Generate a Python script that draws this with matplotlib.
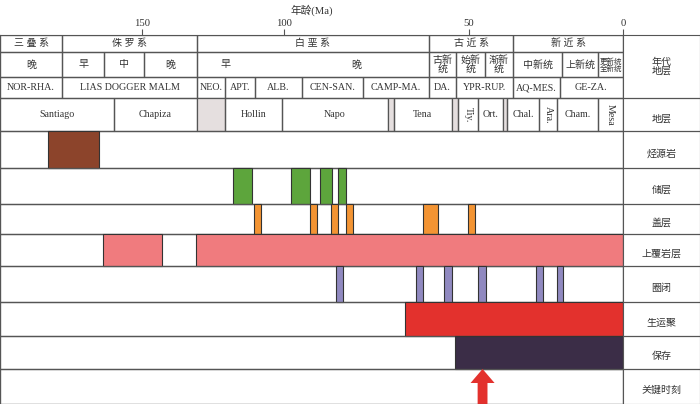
import numpy as np
import matplotlib
matplotlib.use('Agg')
import matplotlib.pyplot as plt
from matplotlib.patches import Rectangle, FancyArrow

plt.rcParams['font.family'] = ['Liberation Serif', 'Noto Sans CJK SC']

# Non-linear time axis used by the chart: age (Ma) -> relative width
knot_ages = [0, 50, 100, 150, 200]
knot_pos = [0, 154, 339, 481.3, 623]

# Chronostratigraphy (age spans in Ma)
systems = [(200, 178.1, '三 叠 系'), (178.1, 130.6, '侏 罗 系'), (130.6, 60.8, '白 垩 系'),
           (60.8, 35.7, '古 近 系'), (35.7, 0, '新 近 系')]
series = [(200, 178.1, '晚'), (178.1, 163.3, '早'), (163.3, 149.2, '中'), (149.2, 130.6, '晚'),
          (130.6, 60.8, None), (60.8, 53.5, '古新\n统'), (53.5, 44.8, '始新\n统'),
          (44.8, 35.7, '渐新\n统'), (35.7, 19.8, '中新统'), (19.8, 8.1, '上新统'),
          (8.1, 0, '更新统\n全新统')]
cret_labels = [(120.7, '早'), (80.5, '晚')]
stages = [(200, 178.1, 'NOR-RHA.'), (178.1, 130.6, 'LIAS DOGGER MALM'), (130.6, 120.7, 'NEO.'),
          (120.7, 110.2, 'APT.'), (110.2, 95.1, 'ALB.'), (95.1, 78.6, 'CEN-SAN.'),
          (78.6, 60.8, 'CAMP-MA.'), (60.8, 53.5, 'DA.'), (53.5, 35.7, 'YPR-RUP.'),
          (35.7, 20.5, 'AQ-MES.'), (20.5, 0, 'GE-ZA.')]
# formations: (old, young, name, rotated, hiatus)
formations = [(200, 159.8, 'Santiago', False, False), (159.8, 130.6, 'Chapiza', False, False),
              (130.6, 120.7, '', False, True), (120.7, 100.7, 'Hollin', False, False),
              (100.7, 71.9, 'Napo', False, False), (71.9, 70.3, '', False, True),
              (70.3, 54.6, 'Tena', False, False), (54.6, 53.0, '', False, True),
              (53.0, 47.1, 'Tiy.', True, False), (47.1, 39.0, 'Ort.', False, False),
              (39.0, 37.7, '', False, True), (37.7, 27.3, 'Chal.', False, False),
              (27.3, 21.4, 'Ara.', True, False), (21.4, 8.1, 'Cham.', False, False),
              (8.1, 0, 'Mesa', True, False)]

# Petroleum system elements
source_rock = [(183.1, 165.1)]
reservoir = [(118.0, 111.2), (98.1, 93.0), (90.3, 87.0), (85.4, 83.2)]
seal = [(110.5, 108.1), (93.0, 91.1), (87.3, 85.4), (83.2, 81.4), (62.4, 58.4), (50.3, 48.1)]
overburden = [(163.7, 142.9), (130.9, 0)]
trap = [(85.9, 84.1), (64.3, 62.4), (56.8, 54.6), (47.1, 44.5), (28.2, 26.0), (21.4, 19.5)]
migration = [(67.3, 0)]
preservation = [(53.8, 0)]
critical_moment = 45.6

event_names = ['烃源岩', '储层', '盖层', '上覆岩层', '圈闭', '生运聚', '保存', '关键时刻']
event_data = [source_rock, reservoir, seal, overburden, trap, migration, preservation, []]
event_colors = ['#8c442b', '#5da53c', '#f39433', '#f07b7e', '#9089c0', '#e3312d', '#3b2d47', None]

rows = [35, 52, 77, 98, 131, 168, 204, 234, 266, 302, 336, 369, 404]
LC = '#555555'
TC = '#333333'
fs = 7.2


def fwd(a):
    return np.interp(a, knot_ages, knot_pos)


def inv(p):
    return np.interp(p, knot_pos, knot_ages)


fig = plt.figure(figsize=(7, 4.04), dpi=100)
H = 404.0
ax = fig.add_axes([0, 0, 623 / 700, (H - 35) / H])
ax.set_xscale('function', functions=(fwd, inv))
ax.set_xlim(200, 0)
ax.set_ylim(404, 35)
ax.set_yticks([])
ax.xaxis.tick_top()
ax.set_xticks([150, 100, 50, 0])
ax.tick_params(axis='x', direction='out', length=4, labelsize=fs + 0.5, pad=1, color=LC,
               labelcolor=TC)
for s in ax.spines.values():
    s.set_color(LC)
ax.set_xlabel('年龄(Ma)', fontsize=fs + 0.5, color=TC)
ax.xaxis.set_label_position('top')


def mid(a, b):
    return inv((fwd(a) + fwd(b)) / 2)


def cell(a, b, y0, y1, text=None, fc='none', rot=0, size=fs):
    ax.add_patch(Rectangle((b, y0), a - b, y1 - y0, fc=fc, ec=LC, lw=0.9))
    if text:
        ax.text(mid(a, b), (y0 + y1) / 2, text, ha='center', va='center', color=TC,
                fontsize=size, rotation=rot, linespacing=0.85)


for a, b, t in systems:
    cell(a, b, rows[0], rows[1], t)
for a, b, t in series:
    cell(a, b, rows[1], rows[2], t, size=fs if t is None or len(t) < 6 else 5.4)
for age, t in cret_labels:
    ax.text(age, (rows[1] + rows[2]) / 2, t, ha='center', va='center', fontsize=fs, color=TC)
for a, b, t in stages:
    cell(a, b, rows[2], rows[3], t)
for a, b, t, rot, hiatus in formations:
    cell(a, b, rows[3], rows[4], t, fc='#e5dfdf' if hiatus else 'none', rot=-90 if rot else 0)

for i, (spans, col) in enumerate(zip(event_data, event_colors)):
    y0, y1 = rows[4 + i], rows[5 + i]
    ax.add_patch(Rectangle((200, y0), -200, y1 - y0, fc='none', ec=LC, lw=0.9))
    for a, b in spans:
        ax.add_patch(Rectangle((b, y0), a - b, y1 - y0, fc=col, ec='#333333', lw=0.8))

# critical moment arrow
ax.add_patch(FancyArrow(critical_moment, 404, 0, -(404 - 369), width=3.2, head_width=7.8,
                        head_length=14, length_includes_head=True, fc='#e3312d', ec='none',
                        transform=ax.transData))

# right label column
ax2 = fig.add_axes([623 / 700, 0, 77 / 700, (H - 35) / H])
ax2.set_xlim(0, 1)
ax2.set_ylim(404, 35)
ax2.set_xticks([])
ax2.set_yticks([])
for s in ax2.spines.values():
    s.set_color(LC)
ax2.axhline(rows[3], color=LC, lw=0.9)
ax2.text(0.5, (rows[0] + rows[3]) / 2, '年代\n地层', ha='center', va='center', fontsize=fs,
         linespacing=0.95, color=TC)
ax2.text(0.5, (rows[3] + rows[4]) / 2 + 5, '地层', ha='center', va='center', fontsize=fs, color=TC)
for i, name in enumerate(event_names):
    ax2.axhline(rows[4 + i], color=LC, lw=0.9)
    ax2.text(0.5, (rows[4 + i] + rows[5 + i]) / 2 + 4, name, ha='center', va='center',
             fontsize=fs, color=TC)

fig.savefig('out.png', dpi=100)
